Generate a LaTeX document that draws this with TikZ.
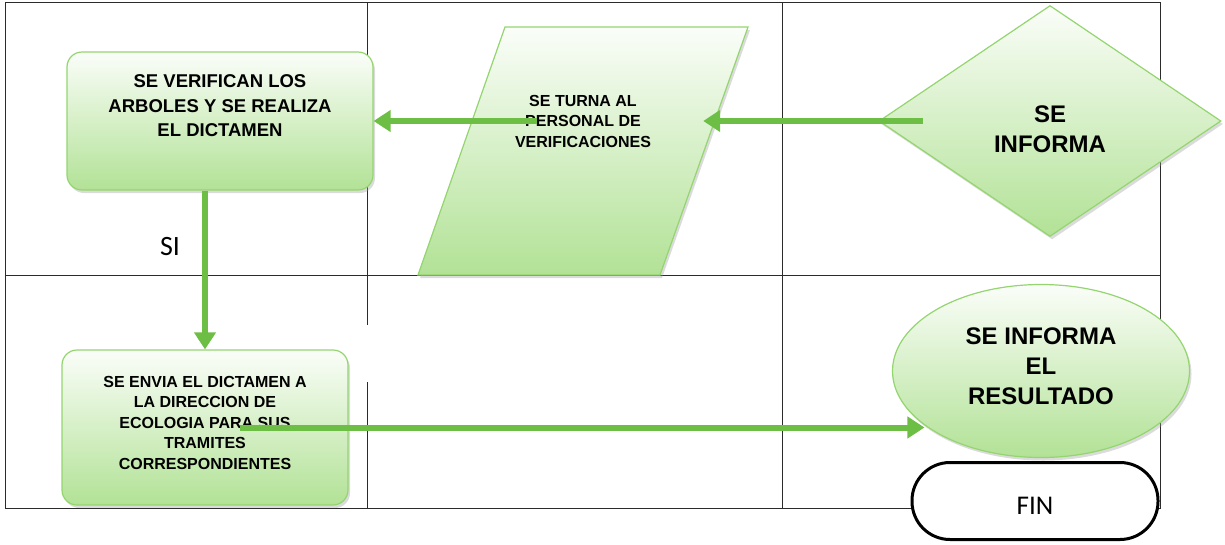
\documentclass[tikz,border=0pt]{standalone}
\usepackage{fontspec}
\setmainfont{Liberation Sans}
\newfontfamily\calibrifont{Carlito}
\usetikzlibrary{arrows.meta,calc,positioning,shapes.geometric,shadows}
\definecolor{leafgreen}{HTML}{6DBE45}
\definecolor{edgegreen}{HTML}{94D56F}
\definecolor{palegreen}{HTML}{B2E296}
\definecolor{gridgray}{HTML}{2B2B2B}
\tikzset{
  gridline/.style={gridgray, line width=1pt},
  flow/.style={leafgreen, line width=6pt, -{Triangle[length=17pt,width=21pt]}},
  greenshape/.style={draw=edgegreen, line width=1.2pt, top color=white!94!palegreen, bottom color=palegreen,
    drop shadow={shadow xshift=2pt, shadow yshift=-3pt, fill=black!40, opacity=0.35}},
  greenbox/.style={greenshape, rectangle, rounded corners=15pt},
  boxtext/.style={align=center, font=\bfseries\fontsize{16}{20.5}\selectfont},
  bigtext/.style={align=center, font=\bfseries\fontsize{24}{30}\selectfont},
  labeltext/.style={font=\calibrifont\fontsize{28}{32}\selectfont},
  finbox/.style={draw=black, line width=3pt, fill=white, rounded corners=38pt, minimum width=246pt,
    minimum height=77pt}
}
\begin{document}
\begin{tikzpicture}[x=1pt,y=-1pt]
  \useasboundingbox (0,0) rectangle (1225,544);
  % lanes
  \draw[gridline] (5,2) rectangle (1160,508);
  \draw[gridline] (5,275) -- (1160,275);
  \draw[gridline] (367,2) -- (367,325) (367,382) -- (367,508);
  \draw[gridline] (782,2) -- (782,508);
  % shapes
  \node[greenbox, minimum width=306pt, minimum height=138pt] (verifica) at (220,121) {};
  \node[boxtext, font=\bfseries\fontsize{18.5}{24.5}\selectfont] (verificatxt) at ([yshift=15pt]verifica.center)
    {SE VERIFICAN LOS\\ARBOLES Y SE REALIZA\\EL DICTAMEN};
  \path[greenshape] (418,275) -- (660,275) -- (748,27) -- (505,27) -- cycle;
  \node[boxtext, minimum width=240pt] (turna) at (583,121) {SE TURNA AL\\PERSONAL DE\\VERIFICACIONES};
  \node[greenshape, diamond, minimum width=342pt, minimum height=231pt, inner sep=0pt] (informa) at (1050,121) {};
  \node[bigtext] (informatxt) at ([yshift=-8pt]informa.center) {SE\\INFORMA};
  \node[greenbox, minimum width=286pt, minimum height=155pt] (envia) at (205,427.5) {};
  \node[boxtext] (enviatxt) at ([yshift=5pt]envia.center)
    {SE ENVIA EL DICTAMEN A\\LA DIRECCION DE\\ECOLOGIA PARA SUS\\TRAMITES\\CORRESPONDIENTES};
  \node[greenshape, ellipse, minimum width=297pt, minimum height=173pt, inner sep=0pt] (resultado) at (1041,371) {};
  \node[bigtext] (resultadotxt) at ([yshift=5pt]resultado.center) {SE INFORMA\\EL\\RESULTADO};
  \node[finbox] (fin) at (1035,501) {};
  \node[font=\calibrifont\fontsize{27}{32}\selectfont] (fintxt) at ([yshift=-5pt]fin.center) {FIN};
  \node[labeltext] (si) at (170,247) {SI};
  % connectors
  \draw[flow] ([xshift=45pt]informa.west) -- (turna.east);
  \draw[flow] ([xshift=-46pt]turna.center) -- (verifica.east);
  \draw[flow] (envia.north |- verifica.south) -- (envia.north);
  \draw[flow] ([xshift=35pt]envia.center) -- (resultado.205 |- envia.center);
\end{tikzpicture}
\end{document}
